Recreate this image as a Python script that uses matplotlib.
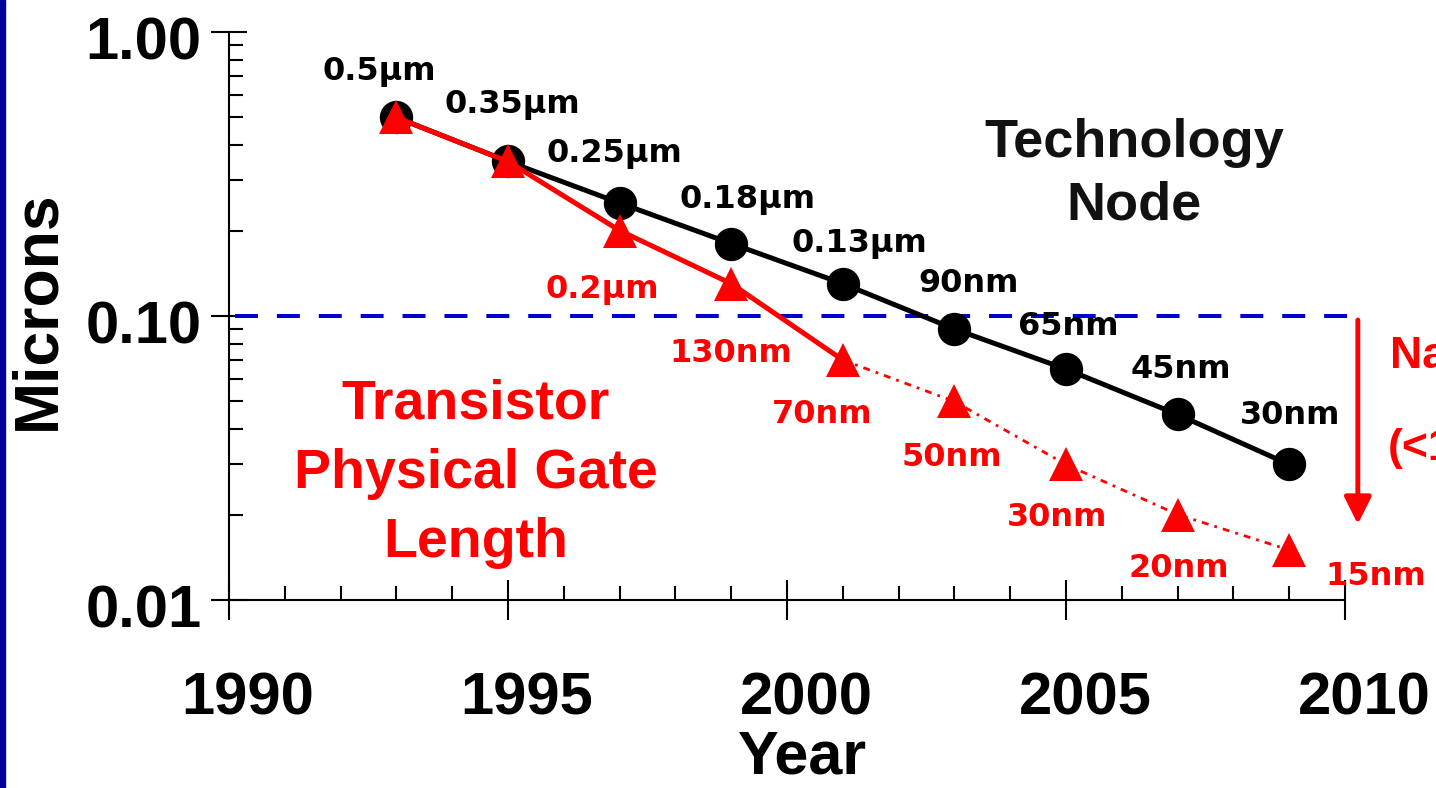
import numpy as np
import matplotlib
matplotlib.use("Agg")
import matplotlib.pyplot as plt
import matplotlib.transforms as mtransforms
from matplotlib.patches import Rectangle, ArrowStyle
from matplotlib.ticker import MultipleLocator, LogLocator, NullFormatter

# ---------------- data ----------------
node_years = [1993, 1995, 1997, 1999, 2001, 2003, 2005, 2007, 2009]
node_microns = [0.5, 0.35, 0.25, 0.18, 0.13, 0.09, 0.065, 0.045, 0.03]
node_labels = ["0.5µm", "0.35µm", "0.25µm", "0.18µm", "0.13µm",
               "90nm", "65nm", "45nm", "30nm"]

gate_years = [1993, 1995, 1997, 1999, 2001, 2003, 2005, 2007, 2009]
gate_microns = [0.5, 0.35, 0.2, 0.13, 0.07, 0.05, 0.03, 0.02, 0.015]
gate_labels = ["", "", "0.2µm", "130nm", "70nm", "50nm", "30nm", "20nm", "15nm"]
gate_solid_count = 5  # first five points drawn with a solid line

year_ticks = [1990, 1995, 2000, 2005, 2010]
micron_ticks = [0.01, 0.1, 1.0]
micron_tick_labels = ["0.01", "0.10", "1.00"]
nano_limit = 0.1

# ---------------- style / layout ----------------
plt.rcParams["font.family"] = ["Liberation Sans", "DejaVu Sans"]
W, H = 1436, 788
RED = "#FF0000"
BLUE = "#0000CC"

# label offsets in pixels (dx, dy up) relative to each point, baseline anchored
node_offsets = [(-17, 37), (4, 48), (-5, 41), (16, 36), (17, 32),
                (14, 37), (2, 34), (3, 36), (1, 40)]
gate_offsets = [(0, 0), (0, 0), (-17, -67), (0, -78), (-21, -63),
                (-3, -65), (-9, -62), (1, -62), (86, -35)]

fig = plt.figure(figsize=(W / 100, H / 100), dpi=100)
fig.patch.set_facecolor("white")
ax = fig.add_axes([229 / W, 1 - 600 / H, (1345 - 229) / W, (600 - 32) / H])
ax.set_yscale("log")
ax.set_xlim(year_ticks[0], year_ticks[-1])
ax.set_ylim(micron_ticks[0], micron_ticks[-1])

# pixel transform (x from left, y from top)
pix = mtransforms.Affine2D().scale(1, -1).translate(0, H)

# left dark-blue stripe
fig.add_artist(Rectangle((0, 0), 5 / W, 1, transform=fig.transFigure,
                         color="#000099", zorder=10))

# spines
for s in ["top", "right"]:
    ax.spines[s].set_visible(False)
for s in ["left", "bottom"]:
    ax.spines[s].set_linewidth(1.5)

# blue dashed 0.1 micron line
ax.hlines(nano_limit, year_ticks[0] + 0.1, year_ticks[-1] + 0.1, colors=BLUE,
          linewidth=2.9, linestyles=(0, (5.7, 4.7)), clip_on=False, zorder=2)

# technology node (black)
ax.plot(node_years, node_microns, color="black", lw=3.6, marker="o", ms=24,
        mew=0, zorder=3, clip_on=False)

# gate length (red)
ax.plot(gate_years[:gate_solid_count], gate_microns[:gate_solid_count],
        color=RED, lw=3.6, zorder=4)
ax.plot(gate_years[gate_solid_count - 1:], gate_microns[gate_solid_count - 1:],
        color=RED, lw=2.0, linestyle=(0, (2.5, 2.2, 1, 2.2)), zorder=4)
ax.plot(gate_years, gate_microns, linestyle="none", marker="^", ms=24, mew=0,
        color=RED, zorder=5, clip_on=False)

# point labels
lab_font = dict(family="DejaVu Sans", fontweight="bold", fontsize=23)
for x, y, t, (dx, dy) in zip(node_years, node_microns, node_labels, node_offsets):
    ax.annotate(t, (x, y), xytext=(dx, dy), textcoords="offset pixels",
                ha="center", va="baseline", color="black",
                annotation_clip=False, zorder=6, **lab_font)
for x, y, t, (dx, dy) in zip(gate_years, gate_microns, gate_labels, gate_offsets):
    if t:
        ax.annotate(t, (x, y), xytext=(dx, dy), textcoords="offset pixels",
                    ha="center", va="baseline", color=RED,
                    annotation_clip=False, zorder=6, **lab_font)

# block texts
fig.text(1134, 174, "Technology\nNode", transform=pix, ha="center", va="center",
         multialignment="center", fontsize=39, fontweight="bold",
         color="#111111", linespacing=1.33)
fig.text(476, 474, "Transistor\nPhysical Gate\nLength", transform=pix,
         ha="center", va="center", multialignment="center", fontsize=40,
         fontweight="bold", color=RED, linespacing=1.43)

# red arrow and (cut-off, as in the reference) text at the right
arrow_x = year_ticks[-1] + 0.23
ax.annotate("", xy=(arrow_x, 0.0185), xytext=(arrow_x, 0.0968),
            arrowprops=dict(arrowstyle=ArrowStyle("-|>", head_length=1.0,
                                                  head_width=0.5),
                            color=RED, lw=3.5, mutation_scale=16.5,
                            shrinkA=0, shrinkB=0),
            annotation_clip=False)
fig.text(1390, 368, "Nanotechnology", transform=pix, ha="left", va="baseline",
         fontsize=32, fontweight="bold", color=RED)
fig.text(1388, 460, "(<100nm)", transform=pix, ha="left", va="baseline",
         fontsize=32, fontweight="bold", color=RED)

# ticks
ax.set_xticks(year_ticks)
ax.set_xticklabels([str(y) for y in year_ticks])
ax.xaxis.set_minor_locator(MultipleLocator(1))
ax.set_yticks(micron_ticks)
ax.set_yticklabels(micron_tick_labels)
ax.yaxis.set_minor_locator(LogLocator(base=10, subs=np.arange(2, 10)))
ax.yaxis.set_minor_formatter(NullFormatter())

ax.tick_params(axis="x", which="major", direction="inout", length=29,
               width=1.5, pad=37, labelsize=43)
ax.tick_params(axis="y", which="major", direction="inout", length=26.6,
               width=1.5, pad=6.5, labelsize=43)
ax.tick_params(which="minor", direction="in", length=10, width=1.5)

for lbl in ax.get_xticklabels():
    lbl.set_fontweight("bold")
    lbl.set_transform(lbl.get_transform() +
                      mtransforms.ScaledTranslation(19 / 100, 0, fig.dpi_scale_trans))
for lbl in ax.get_yticklabels():
    lbl.set_fontweight("bold")
    lbl.set_transform(lbl.get_transform() +
                      mtransforms.ScaledTranslation(0, -6 / 100, fig.dpi_scale_trans))

# axis titles
fig.text(38, 310, "Microns", transform=pix, rotation=90, ha="center",
         va="center", fontsize=45, fontweight="bold")
fig.text(803, 730, "Year", transform=pix, ha="center", va="top",
         fontsize=44, fontweight="bold")

fig.savefig("out.png", dpi=100)
